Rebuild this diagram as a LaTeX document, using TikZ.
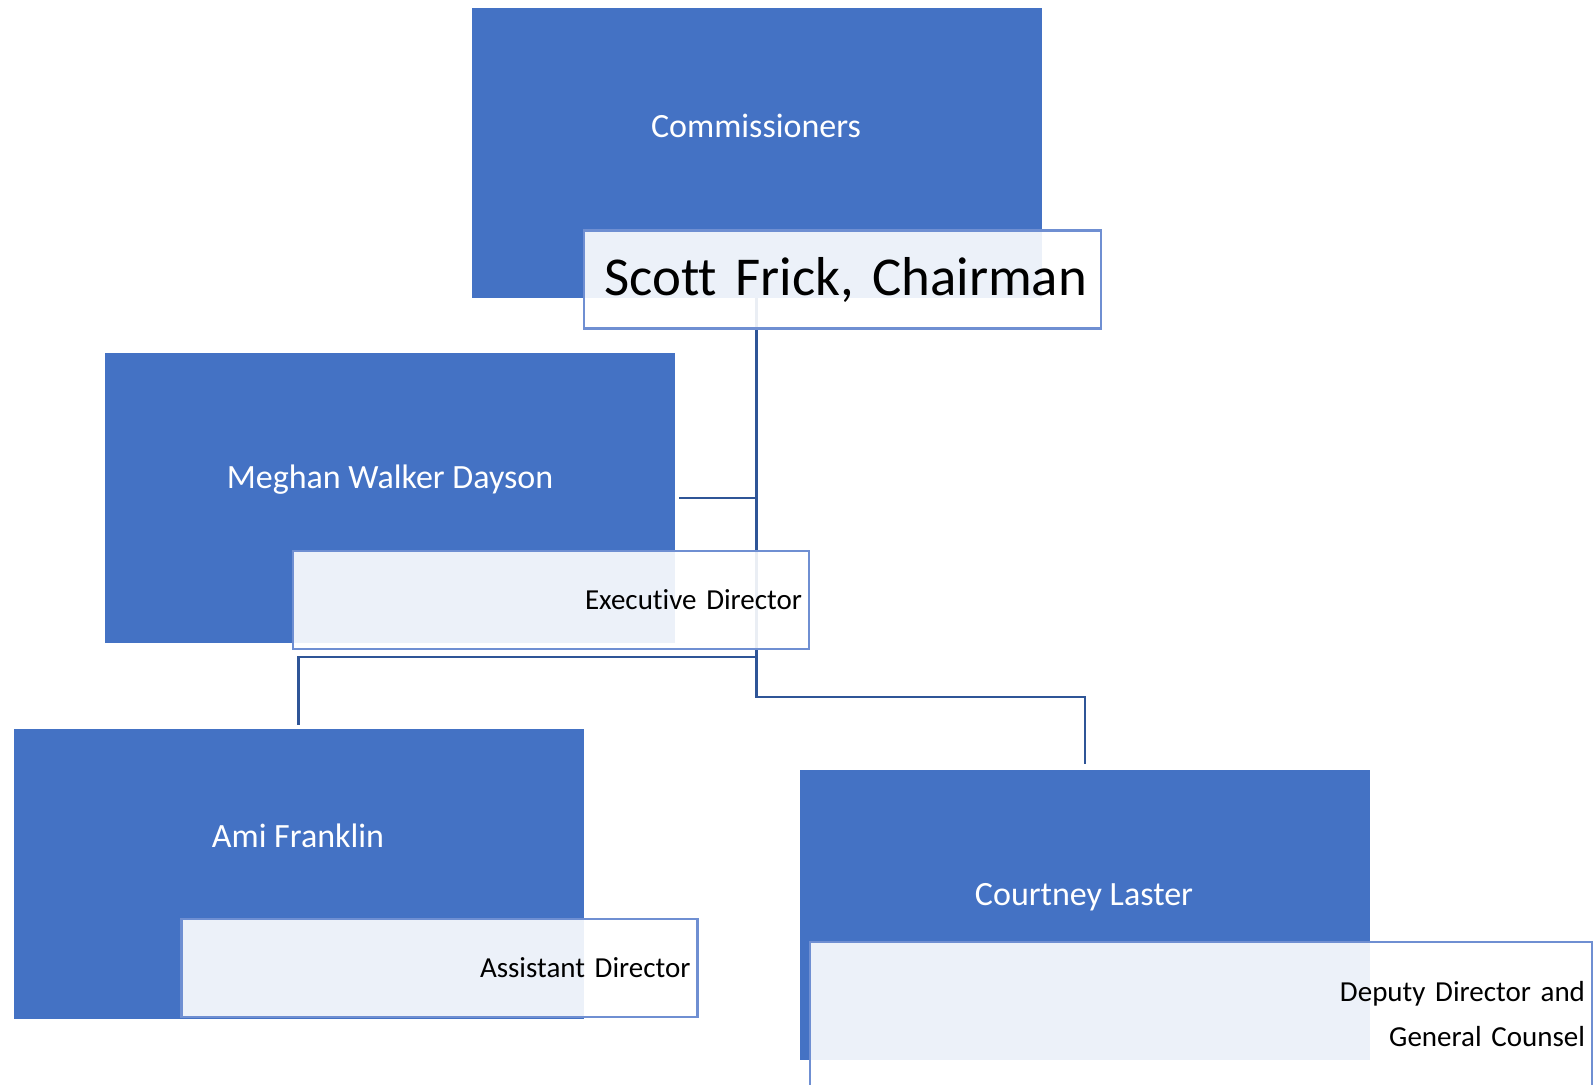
\documentclass[tikz,border=0pt]{standalone}
\usepackage{fontspec}
\setmainfont{Carlito}[Ligatures=NoCommon]
\usetikzlibrary{positioning}
\definecolor{chartblue}{RGB}{68,114,196}
\definecolor{linkblue}{RGB}{47,85,151}
\definecolor{labelline}{RGB}{111,143,210}

\begin{document}
\begin{tikzpicture}[x=0.5pt, y=-0.5pt]
        \tikzstyle{link}=[draw=linkblue, line width=1.4pt]
        \tikzstyle{unit}=[rectangle, fill=chartblue, minimum width=285pt, minimum height=145pt, inner sep=0pt]
        \tikzstyle{name text}=[text=white, font=\fontsize{17}{20}\selectfont]
        \tikzstyle{title box}=[rectangle, draw=labelline, line width=1.1pt, fill=white, fill opacity=0.9, text opacity=1, minimum width=258pt, minimum height=49pt, inner xsep=3.5pt, text width=251pt, align=right, font=\fontsize{14.5}{22.5}\selectfont]

        \useasboundingbox (0,0) rectangle (1596,1085);
        \clip (0,0) rectangle (1596,1085);

        % Draw the unit boxes
        \foreach \name/\x/\y in {comm/756.5/153, megh/390/498, ami/298.5/874, court/1085/915}
            \node[unit] (\name) at (\x,\y) {};

        % Connect the units
        \coordinate (fork-ami) at (756.5,657);
        \coordinate (fork-court) at (756.5,697);
        \draw[link] (comm.south) -- (fork-court) -| ([yshift=3pt]court.north);
        \draw[link] (fork-ami) -| ([yshift=2pt]ami.north);
        \draw[link] ([xshift=2pt]megh.east) -- (megh.east -| comm.south);

        % Title boxes
        \node[title box, minimum width=258.5pt, inner xsep=7pt, text width=244.5pt, font=\fontsize{27.4}{33}\selectfont] (chair) at (842.5,279.5) {Scott Frick, Chairman};
        \node[title box] (exec) at (551,600) {Executive Director};
        \node[title box] (asst) at (439.5,968) {Assistant Director};
        \node[title box, minimum width=391pt, text width=384pt, minimum height=80pt, text depth=30.6pt, anchor=north] (deputy) at (1201,941) {Deputy Director and\\ General Counsel};

        % Names
        \node[name text] (comm-name) at (756,126) {Commissioners};
        \node[name text] (megh-name) at (390,480) {Meghan Walker Dayson};
        \node[name text] (ami-name) at (298,836) {Ami Franklin};
        \node[name text] (court-name) at (1084,897) {Courtney Laster};
\end{tikzpicture}
\end{document}
